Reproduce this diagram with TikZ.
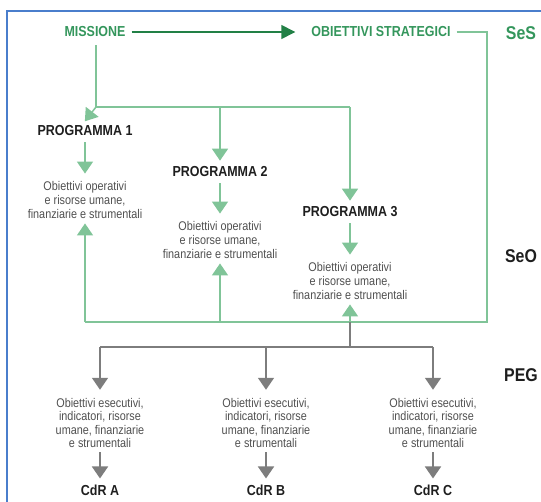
\documentclass[tikz,border=0pt]{standalone}
\usepackage{fontspec}
\setmainfont[FakeStretch=0.86]{Liberation Sans}
\usetikzlibrary{arrows.meta}
\definecolor{verde}{RGB}{52,150,92}
\definecolor{verdescuro}{RGB}{34,128,70}
\definecolor{verdechiaro}{RGB}{128,196,152}
\definecolor{grigio}{RGB}{125,125,125}
\definecolor{grigiotesto}{RGB}{80,80,80}
\definecolor{nero}{RGB}{30,30,30}
\definecolor{blu}{RGB}{74,126,204}
\tikzset{
  titolo/.style={font=\bfseries\fontsize{14.5}{16}\selectfont, text=verde, inner sep=2pt},
  prog/.style={font=\bfseries\fontsize{14.5}{16}\selectfont, text=nero, inner sep=2pt},
  testo/.style={align=center, font=\fontsize{12.6}{13.6}\selectfont, text=grigiotesto, inner sep=1pt},
  livello/.style={font=\bfseries\fontsize{18.5}{20}\selectfont, inner sep=1pt},
  linea/.style={draw=verdechiaro, line width=1.5pt},
  freccia/.style={linea, -{Triangle[width=16pt,length=12pt]}},
  grigialinea/.style={draw=grigio, line width=1.7pt},
  grigiafreccia/.style={grigialinea, -{Triangle[width=16pt,length=12pt]}},
}

\begin{document}
\begin{tikzpicture}[x=1pt, y=-1pt]
\useasboundingbox (0,0) rectangle (541,501);
\draw[blu, line width=2pt] (7,11) rectangle (560,520);

% --- livello strategico ---
\node[titolo] (m) at (95,32) {MISSIONE};
\node[titolo] (os) at (381,32) {OBIETTIVI STRATEGICI};
\node[livello, text=verde] (ses) at (521,33) {SeS};
\node[livello, text=nero] (seo) at (521,256) {SeO};
\node[livello, text=nero] (peg) at (521,375) {PEG};
\draw[verdescuro, line width=1.5pt, -{Triangle[width=14pt,length=14pt]},
      shorten <=4pt, shorten >=14pt] (m) -- (os);

% --- programmi ---
\node[prog] (p1) at (85,131) {PROGRAMMA 1};
\node[testo] (o1) at (85,200) {Obiettivi operativi\\e risorse umane,\\finanziarie e strumentali};
\node[prog] (p2) at (220,172) {PROGRAMMA 2};
\node[testo] (o2) at (220,240) {Obiettivi operativi\\e risorse umane,\\finanziarie e strumentali};
\node[prog] (p3) at (350,212) {PROGRAMMA 3};
\node[testo] (o3) at (350,281) {Obiettivi operativi\\e risorse umane,\\finanziarie e strumentali};

\coordinate (t0) at (96,107);
\coordinate (r) at (487,33);
\coordinate (b1) at (85,322);
\coordinate (g) at (350,347);

\draw[linea, shorten <=6pt] (m.south -| t0) -- (t0) -- (t0 -| p3);
\draw[freccia, shorten >=3pt] (t0) -- ([xshift=-2pt]p1.north);
\draw[freccia, shorten >=4pt] (t0 -| p2) -- (p2);
\draw[freccia, shorten >=4pt] (t0 -| p3) -- (p3);
\foreach \i in {1,2,3} {
  \draw[freccia, shorten <=4pt, shorten >=7pt] (p\i) -- (o\i);
  \draw[freccia, shorten >=4pt] (b1 -| o\i) -- (o\i);
}
\draw[linea, shorten <=4pt] (os.east) -- (os.east -| r) |- (b1);

% --- PEG ---
\node[testo] (e1) at (100,423) {Obiettivi esecutivi,\\indicatori, risorse\\umane, finanziarie\\e strumentali};
\node[testo] (e2) at (266,423) {Obiettivi esecutivi,\\indicatori, risorse\\umane, finanziarie\\e strumentali};
\node[testo] (e3) at (433,423) {Obiettivi esecutivi,\\indicatori, risorse\\umane, finanziarie\\e strumentali};
\node[prog] (c1) at (100,490) {CdR A};
\node[prog] (c2) at (266,490) {CdR B};
\node[prog] (c3) at (433,490) {CdR C};

\draw[grigialinea] (b1 -| o3) -- (g);
\draw[grigialinea] (g -| e1) -- (g -| e3);
\foreach \i in {1,2,3} {
  \draw[grigiafreccia, shorten >=7pt] (g -| e\i) -- (e\i);
  \draw[grigiafreccia, shorten <=3pt, shorten >=4pt] (e\i) -- (c\i);
}
\end{tikzpicture}
\end{document}
